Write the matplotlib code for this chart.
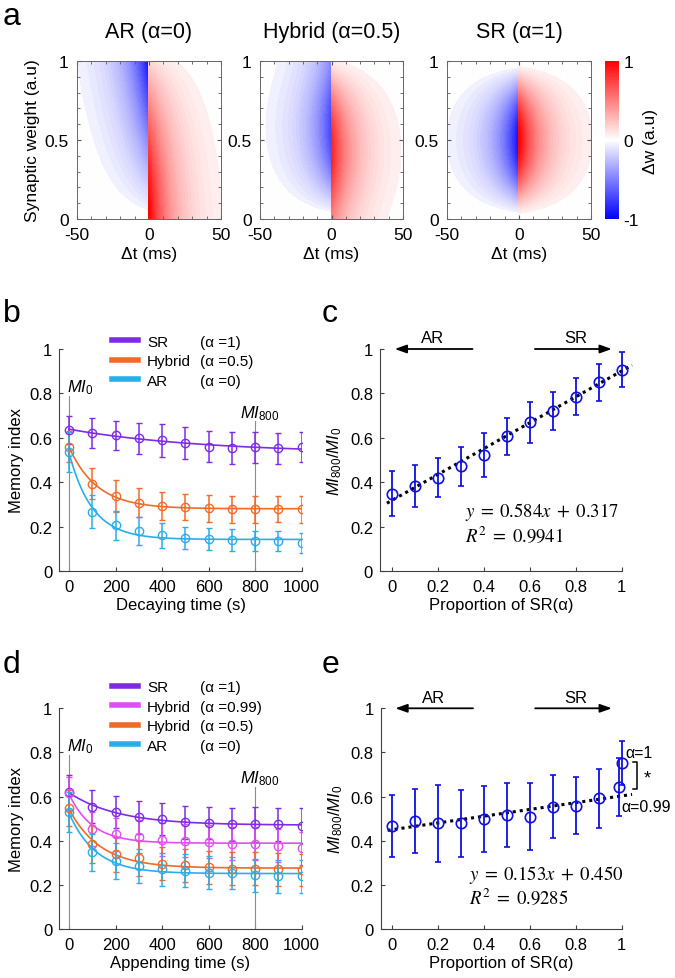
import numpy as np
import matplotlib
matplotlib.use("Agg")
import matplotlib.pyplot as plt
from matplotlib.lines import Line2D
from matplotlib.cm import ScalarMappable
from matplotlib.colors import Normalize

plt.rcParams["font.family"] = ["Liberation Sans", "DejaVu Sans"]
plt.rcParams["mathtext.fontset"] = "custom"
plt.rcParams["mathtext.it"] = "Liberation Sans:italic"
plt.rcParams["mathtext.rm"] = "Liberation Sans"

# ---- panel a: learning-rule maps ----
rule_titles = ["AR (α=0)", "Hybrid (α=0.5)", "SR (α=1)"]
rule_alpha = [0.0, 0.5, 1.0]
tau_ms = 17.0

# ---- panel b: decaying ----
time_s = [0, 100, 200, 300, 400, 500, 600, 700, 800, 900, 1000]
b_sr = [0.635, 0.622, 0.612, 0.598, 0.588, 0.577, 0.560, 0.555, 0.558, 0.552, 0.557]
b_sr_err = [0.065, 0.068, 0.065, 0.07, 0.073, 0.072, 0.07, 0.072, 0.07, 0.068, 0.068]
b_hy = [0.560, 0.393, 0.338, 0.308, 0.292, 0.288, 0.282, 0.278, 0.278, 0.280, 0.278]
b_hy_err = [0.07, 0.07, 0.07, 0.066, 0.062, 0.06, 0.06, 0.06, 0.06, 0.06, 0.06]
b_ar = [0.535, 0.268, 0.205, 0.180, 0.160, 0.150, 0.145, 0.140, 0.133, 0.136, 0.127]
b_ar_err = [0.09, 0.075, 0.065, 0.065, 0.055, 0.05, 0.05, 0.05, 0.045, 0.045, 0.045]

# ---- panel c ----
alpha_c = [0, 0.1, 0.2, 0.3, 0.4, 0.5, 0.6, 0.7, 0.8, 0.9, 1.0]
c_ratio = [0.349, 0.383, 0.421, 0.471, 0.523, 0.606, 0.669, 0.722, 0.785, 0.850, 0.907]
c_err = [0.10, 0.094, 0.088, 0.088, 0.10, 0.085, 0.094, 0.086, 0.084, 0.082, 0.08]
c_fit = [0.584, 0.317, 0.9941]

# ---- panel d: appending ----
d_sr = [0.620, 0.555, 0.529, 0.506, 0.498, 0.483, 0.480, 0.474, 0.474, 0.474, 0.468]
d_sr_err = [0.08, 0.075, 0.072, 0.075, 0.073, 0.076, 0.074, 0.074, 0.08, 0.075, 0.078]
d_h99 = [0.615, 0.453, 0.429, 0.418, 0.405, 0.400, 0.395, 0.386, 0.386, 0.377, 0.365]
d_h99_err = [0.075, 0.075, 0.075, 0.075, 0.075, 0.075, 0.075, 0.075, 0.075, 0.075, 0.075]
d_h5 = [0.548, 0.385, 0.339, 0.320, 0.295, 0.289, 0.280, 0.274, 0.274, 0.271, 0.268]
d_h5_err = [0.08, 0.085, 0.08, 0.08, 0.075, 0.075, 0.075, 0.075, 0.075, 0.075, 0.073]
d_ar = [0.529, 0.347, 0.308, 0.286, 0.271, 0.264, 0.256, 0.252, 0.244, 0.238, 0.238]
d_ar_err = [0.09, 0.083, 0.08, 0.078, 0.075, 0.075, 0.075, 0.073, 0.075, 0.073, 0.073]

# ---- panel e ----
alpha_e = [0, 0.1, 0.2, 0.3, 0.4, 0.5, 0.6, 0.7, 0.8, 0.9, 0.99, 1.0]
e_ratio = [0.468, 0.489, 0.479, 0.479, 0.498, 0.517, 0.509, 0.554, 0.559, 0.592, 0.643, 0.752]
e_err = [0.14, 0.146, 0.175, 0.153, 0.148, 0.145, 0.153, 0.143, 0.13, 0.135, 0.13, 0.10]
e_fit = [0.153, 0.450, 0.9285]

col_sr = "#7f2be6"
col_h99 = "#e050f0"
col_h5 = "#f26a28"
col_ar = "#2aaeea"

W, H = 675, 979
fig = plt.figure(figsize=(W / 100, H / 100), dpi=100)


def box(l, t, r, b):
    return [l / W, 1 - b / H, (r - l) / W, (b - t) / H]


def rule_map(t, w, a):
    env = np.where(t >= 0, np.exp(-t / tau_ms), np.exp(t / tau_ms))
    ar = np.where(t >= 0, 1 - 0.85 * w ** 1.5, -w)
    sr = np.where(t >= 0, 1.0, -1.0) * (4 * w * (1 - w)) ** 1.5
    return env * ((1 - a) * ar + a * sr)


tt, ww = np.meshgrid(np.linspace(-50, 50, 401), np.linspace(0, 1, 201))
levels = np.concatenate([np.linspace(-1, -0.05, 39), np.linspace(0.05, 1, 39)])
heat_boxes = [box(77, 62, 221, 220), box(260, 62, 403, 220), box(447, 62, 591, 220)]
for i, (title, a) in enumerate(zip(rule_titles, rule_alpha)):
    ax = fig.add_axes(heat_boxes[i])
    ax.contourf(tt, ww, rule_map(tt, ww, a), levels=levels,
                cmap="bwr", vmin=-1, vmax=1, extend="neither")
    ax.set_xlim(-50, 50)
    ax.set_ylim(0, 1)
    ax.set_xticks([-50, 0, 50])
    ax.set_xticklabels(["-50", "0", "50"])
    ax.set_yticks([0, 0.5, 1])
    ax.set_yticklabels(["0", "0.5", "1"])
    ax.set_xticks(np.arange(-40, 50, 10), minor=True)
    ax.set_yticks(np.arange(0.1, 1.0, 0.1), minor=True)
    ax.tick_params(which="both", direction="in", top=True, right=True,
                   labelsize=12.5, colors="0.35", labelcolor="black")
    ax.tick_params(which="major", length=3)
    ax.tick_params(which="minor", length=2)
    ax.tick_params(axis="x", pad=6)
    ax.tick_params(axis="y", pad=6)
    for s in ax.spines.values():
        s.set_color("0.4")
        s.set_linewidth(0.7)
    ax.set_title(title, fontsize=15.5, pad=17)
    ax.set_xlabel("Δt (ms)", fontsize=12.5, labelpad=3)
    if i == 0:
        ax.set_ylabel("Synaptic weight (a.u)", fontsize=12.5, labelpad=3)

cax = fig.add_axes(box(605, 62, 619, 220))
cb = fig.colorbar(ScalarMappable(Normalize(-1, 1), "bwr"), cax=cax)
cb.set_ticks([-1, 0, 1])
cb.set_ticklabels(["-1", "0", "1"])
cb.outline.set_visible(False)
cax.tick_params(length=0, labelsize=12.5, pad=3)
cb.set_label("Δw (a.u)", fontsize=12.5, labelpad=3)


def exp_fit(t, y):
    t = np.asarray(t, float)
    y = np.asarray(y, float)
    best = None
    for tau in np.linspace(20, 4000, 800):
        A = np.column_stack([np.ones_like(t), np.exp(-t / tau)])
        coef = np.linalg.lstsq(A, y, rcond=None)[0]
        err = np.sum((A @ coef - y) ** 2)
        if best is None or err < best[0]:
            best = (err, tau, coef)
    _, tau, coef = best
    tf = np.linspace(0, 1000, 200)
    return tf, coef[0] + coef[1] * np.exp(-tf / tau)


def style_line_axes(ax, xlabel):
    ax.set_xlim(-42, 1000)
    ax.set_ylim(0, 1)
    ax.set_xticks([0, 200, 400, 600, 800, 1000])
    ax.set_yticks([0, 0.2, 0.4, 0.6, 0.8, 1])
    ax.set_yticklabels(["0", "0.2", "0.4", "0.6", "0.8", "1"])
    ax.spines["top"].set_visible(False)
    ax.spines["right"].set_visible(False)
    for s in ("left", "bottom"):
        ax.spines[s].set_color("0.25")
        ax.spines[s].set_linewidth(0.8)
    ax.tick_params(direction="in", length=3, labelsize=12, colors="0.25",
                   labelcolor="black")
    ax.tick_params(axis="x", pad=6)
    ax.tick_params(axis="y", pad=5)
    ax.set_xlabel(xlabel, fontsize=12, labelpad=2)
    ax.set_ylabel("Memory index", fontsize=12, labelpad=4)


def line_panel(ax, series, mi0_y, mi800_y):
    ax.plot([0, 0], [0, mi0_y - 0.02], color="0.55", lw=0.8)
    ax.plot([800, 800], [0, mi800_y - 0.02], color="0.55", lw=0.8)
    ax.text(-10, mi0_y, "$MI_0$", fontsize=12, va="baseline")
    ax.text(735, mi800_y, "$MI_{800}$", fontsize=12, va="baseline")
    for vals, err, col in series:
        ax.errorbar(time_s, vals, yerr=err, fmt="o", color=col, mfc="none",
                    ms=6, mew=1.0, elinewidth=1.1, capsize=2.5, capthick=1.1)
        tf, yf = exp_fit(time_s, vals)
        ax.plot(tf, yf, color=col, lw=1.2)


def add_legend(ax, names, alphas, cols, y_anchor):
    handles = [Line2D([], [], color=c, lw=4) for c in cols]
    handles += [Line2D([], [], color="none") for _ in cols]
    leg = ax.legend(handles, names + alphas, ncol=2, frameon=False, fontsize=11,
                    handlelength=1.7, handletextpad=0.6, columnspacing=-1.7,
                    labelspacing=0.36, borderpad=0, borderaxespad=0,
                    loc="upper left", bbox_to_anchor=(0.217, y_anchor))
    return leg


# panel b
axb = fig.add_axes(box(59.3, 350, 301.7, 572))
style_line_axes(axb, "Decaying time (s)")
line_panel(axb, [(b_sr, b_sr_err, col_sr), (b_hy, b_hy_err, col_h5),
                 (b_ar, b_ar_err, col_ar)], 0.81, 0.694)
add_legend(axb, ["SR", "Hybrid", "AR"], ["(α =1)", "(α =0.5)", "(α =0)"],
           [col_sr, col_h5, col_ar], 1.065)

# panel d
axd = fig.add_axes(box(59.3, 709.3, 301.7, 930))
style_line_axes(axd, "Appending time (s)")
line_panel(axd, [(d_sr, d_sr_err, col_sr), (d_h99, d_h99_err, col_h99),
                 (d_h5, d_h5_err, col_h5), (d_ar, d_ar_err, col_ar)], 0.808, 0.665)
add_legend(axd, ["SR", "Hybrid", "Hybrid", "AR"],
           ["(α =1)", "(α =0.99)", "(α =0.5)", "(α =0)"],
           [col_sr, col_h99, col_h5, col_ar], 1.128)


def ratio_panel(ax, xs, ys, errs, fit, eq_x, eq_y, r2_y):
    ax.set_xlim(-0.05, 1.0)
    ax.set_ylim(0, 1)
    ax.set_xticks([0, 0.2, 0.4, 0.6, 0.8, 1])
    ax.set_xticklabels(["0", "0.2", "0.4", "0.6", "0.8", "1"])
    ax.set_yticks([0, 0.2, 0.4, 0.6, 0.8, 1])
    ax.set_yticklabels(["0", "0.2", "0.4", "0.6", "0.8", "1"])
    ax.spines["top"].set_visible(False)
    ax.spines["right"].set_visible(False)
    for s in ("left", "bottom"):
        ax.spines[s].set_color("0.25")
        ax.spines[s].set_linewidth(0.8)
    ax.tick_params(direction="in", length=3, labelsize=12, colors="0.25",
                   labelcolor="black")
    ax.tick_params(axis="x", pad=6)
    ax.tick_params(axis="y", pad=5)
    ax.set_xlabel("Proportion of SR(α)", fontsize=12, labelpad=2)
    ax.set_ylabel("$MI_{800}/MI_0$", fontsize=12, labelpad=4)
    xf = np.array([-0.02, 1.045])
    ax.plot(xf, fit[0] * xf + fit[1], color="black", lw=2.2, ls=(0, (1, 1.3)),
            clip_on=False, zorder=1)
    ax.errorbar(xs, ys, yerr=errs, fmt="o", color="#1010e0", mfc="none", ms=7.5,
                mew=1.2, elinewidth=1.3, capsize=2.5, capthick=1.2, clip_on=False,
                zorder=3)
    ax.text(eq_x, eq_y, r"$y\;=\;%.3fx\;+\;%.3f$" % (fit[0], fit[1]),
            fontsize=13.5, va="center", math_fontfamily="stix")
    ax.text(eq_x, r2_y, r"$R^2\;=\;%.4f$" % fit[2], fontsize=13.5, va="center",
            math_fontfamily="stix")
    arrow = dict(arrowstyle="-|>,head_length=0.7,head_width=0.25", color="black",
                 lw=1.3, shrinkA=0, shrinkB=0)
    ax.annotate("", xy=(0.014, 1.0), xytext=(0.352, 1.0), arrowprops=arrow,
                annotation_clip=False)
    ax.annotate("", xy=(0.957, 1.0), xytext=(0.623, 1.0), arrowprops=arrow,
                annotation_clip=False)
    ax.text(0.18, 1.05, "AR", fontsize=12, ha="center", va="center")
    ax.text(0.80, 1.05, "SR", fontsize=12, ha="center", va="center")


axc = fig.add_axes(box(380, 350, 621.7, 572))
ratio_panel(axc, alpha_c, c_ratio, c_err, c_fit, 0.319, 0.27, 0.161)

axe = fig.add_axes(box(380.7, 709.3, 621.7, 930))
ratio_panel(axe, alpha_e, e_ratio, e_err, e_fit, 0.333, 0.249, 0.144)
axe.plot([1.048, 1.068, 1.068, 1.048], [0.755, 0.755, 0.634, 0.634], color="black",
         lw=1.1, clip_on=False)
axe.text(1.111, 0.683, "*", fontsize=13, ha="center", va="center")
axe.text(1.015, 0.80, "α=1", fontsize=11.5, va="center")
axe.text(1.0, 0.556, "α=0.99", fontsize=11.5, va="center")

for letter, x, yb in [("a", 3, 25), ("b", 3, 322), ("c", 322, 322),
                      ("d", 3, 673), ("e", 322, 673)]:
    fig.text(x / W, 1 - yb / H, letter, fontsize=23, va="baseline")

fig.savefig("out.png", dpi=100)
